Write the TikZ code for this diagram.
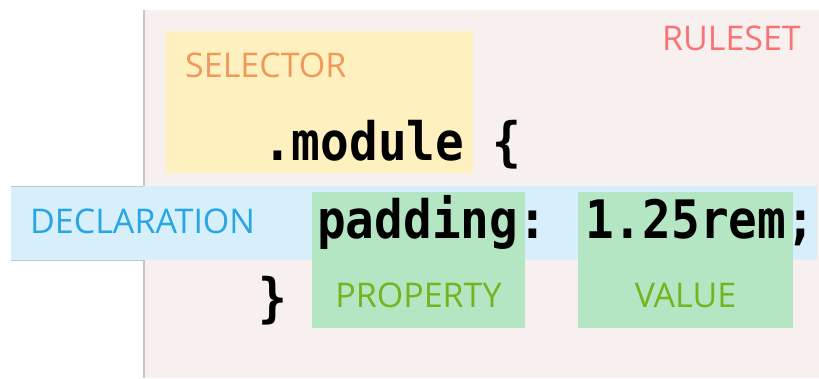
\documentclass[tikz,border=0pt]{standalone}
\usepackage{fontspec}
\setmainfont{Open Sans}
\newfontfamily\codefont[FakeStretch=0.9]{DejaVu Sans Mono}
\definecolor{rulebg}{HTML}{F8EFEF}
\definecolor{selbg}{HTML}{FEF0BF}
\definecolor{declbg}{HTML}{D7EEFB}
\definecolor{propbg}{HTML}{B5E6C3}
\definecolor{rulefg}{HTML}{F87474}
\definecolor{selfg}{HTML}{EF9A5A}
\definecolor{declfg}{HTML}{27A6E6}
\definecolor{propfg}{HTML}{72B51E}
\definecolor{edge}{HTML}{C6C6C6}
\tikzset{
  label/.style={inner sep=0pt, font=\fontsize{34}{34}\selectfont},
  code/.style={inner sep=0pt, font=\codefont\bfseries\fontsize{53}{53}\selectfont, text=black},
}
\begin{document}
\begin{tikzpicture}[x=1pt,y=-1pt]
\useasboundingbox (0,0) rectangle (819,378);
% ruleset background
\fill[rulebg] (143,10) rectangle (819,378);
\draw[edge, line width=1.5pt] (143.75,10) -- (143.75,186);
\draw[edge, line width=1.5pt] (143.75,260) -- (143.75,378);
% selector
\fill[selbg] (166,31) rectangle (473,173);
% declaration band
\fill[declbg] (11,186) rectangle (817,260);
\draw[edge, line width=1pt] (11,186) -- (143,186);
\draw[edge, line width=1pt] (11,260) -- (143,260);
% property and value
\fill[propbg] (312,192) rectangle (525,328);
\fill[propbg] (578,192) rectangle (793,328);
% labels
\node[label, text=rulefg, anchor=base east] (ruleset) at (801,50) {RULESET};
\node[label, text=selfg, anchor=base west] (selector) at (185,77) {SELECTOR};
\node[label, text=declfg, anchor=base west] (declaration) at (30,233) {DECLARATION};
\node[label, text=propfg, anchor=base] (property) at (418.5,307) {PROPERTY};
\node[label, text=propfg, anchor=base] (value) at (685.5,307) {VALUE};
% code
\node[code, anchor=base west] (module) at (263,160) {.module \{};
\node[code, anchor=base west] (padding) at (317,238) {padding: 1.25rem;};
\node[code, anchor=base west] (close) at (258,316) {\}};
\end{tikzpicture}
\end{document}
